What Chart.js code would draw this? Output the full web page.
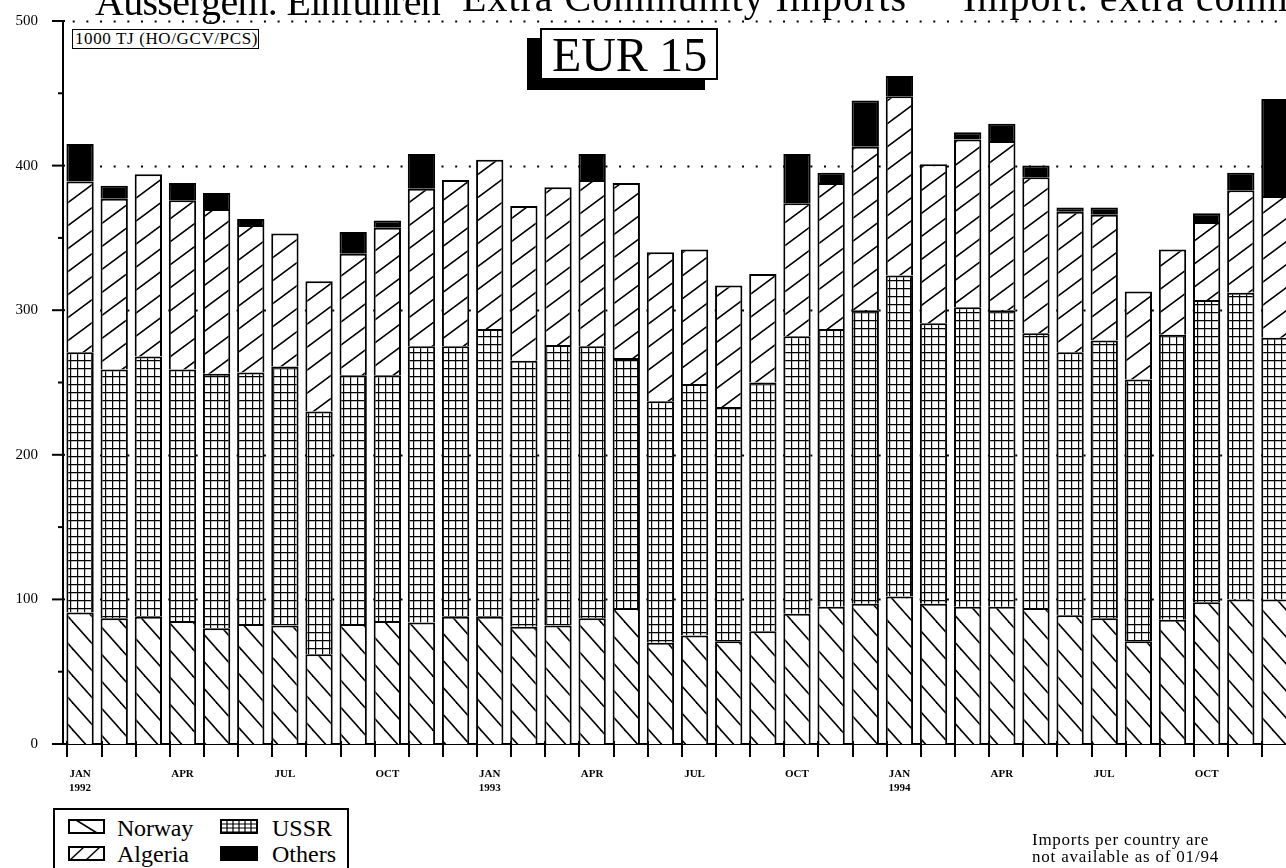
<!DOCTYPE html>
<html><head><meta charset="utf-8">
<script src="https://cdn.jsdelivr.net/npm/chart.js@4.4.0/dist/chart.umd.min.js"></script>
<style>
html,body{margin:0;padding:0;background:#fff;overflow:hidden;width:1286px;height:868px;}
#wrap{position:relative;width:1286px;height:868px;overflow:hidden;background:#fff;}
#c{position:absolute;left:0;top:0;}
.t{position:absolute;font-family:'Liberation Serif','Times New Roman',serif;color:#000;white-space:nowrap;}
.title{font-size:40px;line-height:40px;}
#units{position:absolute;left:72px;top:29px;width:187px;height:20px;box-sizing:border-box;border:1.5px solid #000;background:#fff;}
#unitsTxt{left:2px;top:0px;font-size:17px;line-height:17px;}
#eur{position:absolute;left:540px;top:28px;width:178px;height:52px;box-sizing:border-box;border:2px solid #000;background:#fff;box-shadow:-13px 10px 0 #000;}
#eurTxt{left:10px;top:0px;font-size:48px;line-height:46px;padding-top:2px;}
#legend{position:absolute;left:53px;top:808px;width:296px;height:80px;box-sizing:border-box;border:2px solid #000;background:#fff;}
.sw{position:absolute;}
.lg{font-size:24px;line-height:24px;}
.fn{font-size:17px;line-height:17px;}
</style></head><body><div id="wrap">
<canvas id="c" width="1300" height="868"></canvas>
<div class="t title" id="t1" style="left:95px;top:-18px;">Aussergem. Einfuhren</div>
<div class="t title" id="t2" style="left:462px;top:-22px;">Extra Community Imports</div>
<div class="t title" id="t3" style="left:963px;top:-22px;">Import. extra communautaires</div>
<div id="units"><div class="t" id="unitsTxt">1000 TJ (HO/GCV/PCS)</div></div>
<div id="eur"><div class="t" id="eurTxt">EUR 15</div></div>
<div id="legend"></div>
<canvas class="sw" id="swN" width="37" height="15" style="left:68px;top:819px;"></canvas>
<div class="t lg" id="lN" style="left:117px;top:816px;">Norway</div>
<canvas class="sw" id="swU" width="38" height="15" style="left:220px;top:819px;"></canvas>
<div class="t lg" id="lU" style="left:272px;top:816px;">USSR</div>
<canvas class="sw" id="swA" width="37" height="15" style="left:68px;top:846px;"></canvas>
<div class="t lg" id="lA" style="left:117px;top:842px;">Algeria</div>
<canvas class="sw" id="swO" width="38" height="15" style="left:220px;top:846px;"></canvas>
<div class="t lg" id="lO" style="left:272px;top:842px;">Others</div>
<div class="t fn" id="f1" style="left:1032px;top:831px;">Imports per country are</div>
<div class="t fn" id="f2" style="left:1032px;top:848px;">not available as of 01/94</div>
</div>
<script>
// ---- data ----
const months = ['JAN 1992','FEB 1992','MAR 1992','APR 1992','MAY 1992','JUN 1992','JUL 1992','AUG 1992','SEP 1992','OCT 1992','NOV 1992','DEC 1992',
  'JAN 1993','FEB 1993','MAR 1993','APR 1993','MAY 1993','JUN 1993','JUL 1993','AUG 1993','SEP 1993','OCT 1993','NOV 1993','DEC 1993',
  'JAN 1994','FEB 1994','MAR 1994','APR 1994','MAY 1994','JUN 1994','JUL 1994','AUG 1994','SEP 1994','OCT 1994','NOV 1994','DEC 1994'];
const tickLabels = [['JAN','1992'],'','','APR','','','JUL','','','OCT','','',
  ['JAN','1993'],'','','APR','','','JUL','','','OCT','','',
  ['JAN','1994'],'','','APR','','','JUL','','','OCT','',''];
const norway  = [91,87,88,85,80,83,82,62,83,85,84,88,88,81,82,87,94,70,75,71,78,90,95,97,102,97,95,95,94,89,87,71,86,98,100,100];
const ussr    = [180,172,180,174,176,174,179,168,172,170,191,187,199,184,194,188,173,167,174,162,172,192,192,203,222,194,207,205,190,182,192,181,197,209,212,181];
const algeria = [118,118,126,117,114,102,92,90,84,102,109,115,117,107,109,115,121,103,93,84,75,92,101,113,124,110,116,117,108,97,87,61,59,54,71,98];
const others  = [26,9,0,12,11,4,0,0,15,5,24,0,0,0,0,18,0,0,0,0,0,34,7,32,14,0,5,12,8,3,5,0,0,6,12,67];
const yTickValues = [0,100,200,300,400,500];
const dottedBehind = [100,200,300,400];
const dottedTop = [500];

// ---- patterns ----
function tile(w,h,draw){
  const c=document.createElement('canvas'); c.width=w; c.height=h;
  const g=c.getContext('2d'); g.fillStyle='#fff'; g.fillRect(0,0,w,h);
  g.strokeStyle='#000'; g.lineWidth=1.6; g.lineCap='square'; draw(g,w,h); return c;
}
function diagBack(g,w,h){ [0,-w,w].forEach(dx=>{g.beginPath();g.moveTo(dx,0);g.lineTo(dx+w,h);g.stroke();}); }
function diagFwd(g,w,h){ [0,-w,w].forEach(dx=>{g.beginPath();g.moveTo(dx,h);g.lineTo(dx+w,0);g.stroke();}); }
function gridT(g,w,h){ g.lineWidth=1.2; g.beginPath(); g.moveTo(0.6,0); g.lineTo(0.6,h); g.moveTo(0,0.6); g.lineTo(w,0.6); g.stroke(); }
const cctx = document.getElementById('c').getContext('2d');
const patNorway  = cctx.createPattern(tile(24,27,diagBack),'repeat');
const patAlgeria = cctx.createPattern(tile(31,23,diagFwd),'repeat');
const patUssr    = cctx.createPattern(tile(7,8,gridT),'repeat');

// ---- decorations through the scales ----
function dotted(chart, values){
  const {ctx, chartArea:a, scales:{y}} = chart;
  ctx.save(); ctx.strokeStyle='#000'; ctx.lineWidth=2; ctx.setLineDash([2,11.66]); ctx.lineDashOffset=3.96;
  values.forEach(v=>{ const py=Math.round(y.getPixelForValue(v))+0.5; ctx.beginPath(); ctx.moveTo(a.left,py); ctx.lineTo(a.right+20,py); ctx.stroke(); });
  ctx.restore();
}
const deco = {
  id:'deco',
  beforeDatasetsDraw(chart){ dotted(chart, dottedBehind); },
  afterDraw(chart){
    dotted(chart, dottedTop);
    const {ctx, chartArea:a, scales:{y}} = chart;
    ctx.save(); ctx.strokeStyle='#000'; ctx.lineWidth=2;
    chart.getDatasetMeta(0).data.forEach(b=>{ const px=Math.round(b.x-b.width/2)+1; ctx.beginPath(); ctx.moveTo(px,a.bottom-3); ctx.lineTo(px,a.bottom+13); ctx.stroke(); });
    for(let v=0; v<=500; v+=50){ const py=y.getPixelForValue(v); const major=v%100===0; ctx.beginPath(); ctx.moveTo(a.left-(major?11:5),py); ctx.lineTo(a.left+(major?2:1),py); ctx.stroke(); }
    ctx.restore();
  }
};

const ds = (label,data,bg)=>({label,data,backgroundColor:bg,borderColor:'#000',borderWidth:2,barPercentage:0.8,categoryPercentage:1.0});
new Chart(document.getElementById('c'),{
  type:'bar',
  data:{labels:months,datasets:[ds('Norway',norway,patNorway),ds('USSR',ussr,patUssr),ds('Algeria',algeria,patAlgeria),ds('Others',others,'#000')]},
  options:{
    responsive:false, animation:false,
    layout:{padding:{top:21,right:8,left:0,bottom:0}},
    plugins:{legend:{display:false},tooltip:{enabled:false}},
    scales:{
      x:{stacked:true,
        grid:{display:false,drawTicks:false},
        border:{display:true,color:'#000',width:2},
        ticks:{autoSkip:false,maxRotation:0,padding:24,color:'#000',
          font:{family:"'Liberation Serif', serif",size:11,weight:'bold',lineHeight:1.2},
          callback:(v,i)=>tickLabels[i]},
        afterFit:s=>{s.height=124; s.paddingLeft=0; s.paddingRight=0;}},
      y:{stacked:true,min:0,max:500,
        grid:{display:false,drawTicks:false},
        border:{display:true,color:'#000',width:2},
        afterBuildTicks:s=>{s.ticks=yTickValues.map(v=>({value:v}));},
        ticks:{padding:25,color:'#000',font:{family:"'Liberation Serif', serif",size:15}},
        afterFit:s=>{s.width=63; s.paddingTop=0; s.paddingBottom=0;}}
    }
  },
  plugins:[deco]
});

// ---- legend swatches ----
function sw(id,fn){ const c=document.getElementById(id); const g=c.getContext('2d'); const w=c.width,h=c.height; g.fillStyle='#fff'; g.fillRect(0,0,w,h); g.strokeStyle='#000'; g.lineWidth=1.5; fn(g,w,h); g.lineWidth=2; g.strokeRect(1,1,w-2,h-2); }
sw('swN',(g,w,h)=>{g.beginPath();g.moveTo(8,1);g.lineTo(w-8,h-1);g.stroke();});
sw('swA',(g,w,h)=>{g.beginPath();g.moveTo(2,h-1);g.lineTo(16,1);g.moveTo(18,h-1);g.lineTo(32,1);g.stroke();});
sw('swU',(g,w,h)=>{g.lineWidth=1.2;g.beginPath();for(let x=7;x<w;x+=6){g.moveTo(x,0);g.lineTo(x,h);}for(let y=5;y<h;y+=4){g.moveTo(0,y);g.lineTo(w,y);}g.stroke();});
sw('swO',(g,w,h)=>{g.fillStyle='#000';g.fillRect(0,0,w,h);});

// ---- fit text widths ----
function fit(id,w){ const el=document.getElementById(id); el.style.letterSpacing='0px'; const nat=el.getBoundingClientRect().width; const ls=(w-nat)/el.textContent.length; el.style.letterSpacing=ls+'px'; return ls; }
function fitAll(){
  fit('t1',345); const ls=fit('t2',445); document.getElementById('t3').style.letterSpacing=ls+'px';
  fit('unitsTxt',183); fit('f1',177); fit('f2',187); fit('eurTxt',155);
  fit('lN',76);
}
fitAll(); if(document.fonts&&document.fonts.ready) document.fonts.ready.then(fitAll);
</script>
</body></html>
